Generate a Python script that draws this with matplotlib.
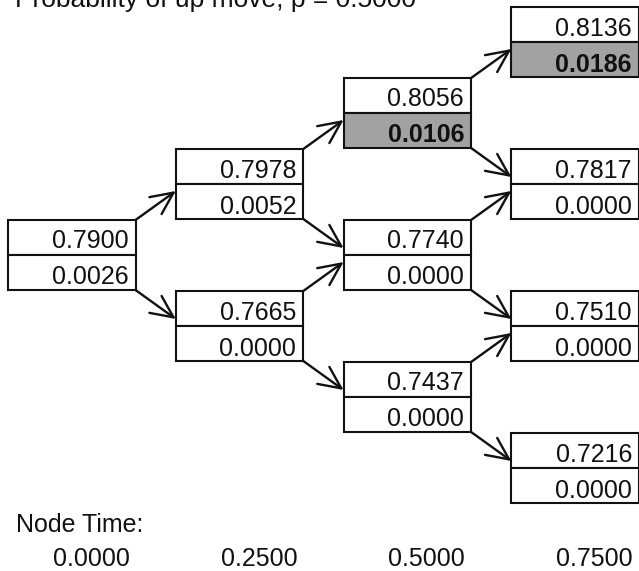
import matplotlib
matplotlib.use("Agg")
import matplotlib.pyplot as plt
from matplotlib.patches import Rectangle, FancyArrowPatch, ArrowStyle

plt.rcParams['font.family'] = ['Liberation Sans', 'DejaVu Sans']

# ---- data ----
p_up = 0.5000
times = [0.0000, 0.2500, 0.5000, 0.7500]
prices = [
    [0.7900],
    [0.7978, 0.7665],
    [0.8056, 0.7740, 0.7437],
    [0.8136, 0.7817, 0.7510, 0.7216],
]
values = [
    [0.0026],
    [0.0052, 0.0000],
    [0.0106, 0.0000, 0.0000],
    [0.0186, 0.0000, 0.0000, 0.0000],
]
shaded = [(2, 0), (3, 0)]

# ---- layout (pixel units) ----
W, H = 639, 571
x0, dx = 8.0, 167.8
box_w, cell_h = 127.5, 35.0
y_root, dy = 255.0, 71.0
tip_off = 7.0
fs = 18

fig = plt.figure(figsize=(W / 100, H / 100), dpi=100)
ax = fig.add_axes([0, 0, 1, 1])
ax.set_xlim(0, W)
ax.set_ylim(H, 0)
ax.axis('off')


def node_center(i, j):
    return x0 + i * dx, y_root + (2 * j - i) * dy


style = ArrowStyle('->', head_length=16, head_width=7.5)

for i, (col_p, col_v) in enumerate(zip(prices, values)):
    for j, (pv, vv) in enumerate(zip(col_p, col_v)):
        xl, yc = node_center(i, j)
        grey = (i, j) in shaded
        # top cell
        ax.add_patch(Rectangle((xl, yc - cell_h), box_w, cell_h, facecolor='white',
                               edgecolor='#111111', lw=1.5, zorder=2))
        ax.add_patch(Rectangle((xl, yc), box_w, cell_h,
                               facecolor='#a2a2a2' if grey else 'white',
                               edgecolor='#111111', lw=1.5, zorder=2))
        ax.text(xl + box_w - 7, yc - 6.5, f"{pv:.4f}", ha='right', va='baseline',
                fontsize=fs, color='#111111', zorder=3)
        ax.text(xl + box_w - 7, yc + cell_h - 5.5, f"{vv:.4f}", ha='right', va='baseline',
                fontsize=fs, color='#111111', zorder=3,
                fontweight='bold' if grey else 'normal')
        # arrows to next step
        if i + 1 < len(prices):
            xr = xl + box_w
            xn, yu = node_center(i + 1, j)
            _, yd = node_center(i + 1, j + 1)
            ax.add_patch(FancyArrowPatch((xr, yc - cell_h), (xn, yu + tip_off),
                                         arrowstyle=style, mutation_scale=1,
                                         shrinkA=0, shrinkB=0, lw=1.7,
                                         color='#111111', zorder=1))
            ax.add_patch(FancyArrowPatch((xr, yc + cell_h), (xn, yd - tip_off),
                                         arrowstyle=style, mutation_scale=1,
                                         shrinkA=0, shrinkB=0, lw=1.7,
                                         color='#111111', zorder=1))

# title (partly cropped at the top, as in the reference)
ax.text(15, 7, f"Probability of up move, p = {p_up:.4f}", ha='left', va='baseline',
        fontsize=19, color='#111111')

# node times
ax.text(16, 532, "Node Time:", ha='left', va='baseline', fontsize=fs, color='#111111')
for i, t in enumerate(times):
    xl, _ = node_center(i, 0)
    ax.text(xl + box_w - 6, 566, f"{t:.4f}", ha='right', va='baseline',
            fontsize=fs, color='#111111')

fig.savefig('out.png', dpi=100)
